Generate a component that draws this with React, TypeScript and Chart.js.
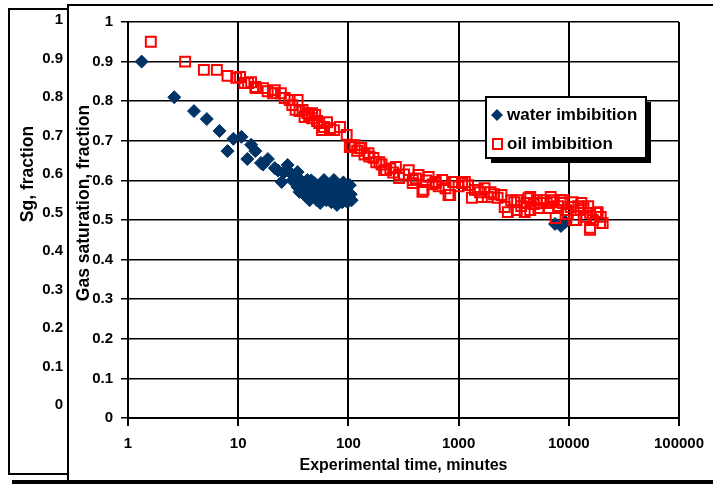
import React, { useEffect, useRef } from 'react';
import { Chart, registerables } from 'chart.js';

Chart.register(...registerables);

const FONT = "'Liberation Sans', Arial, sans-serif";

const seriesNames = ['water imbibition', 'oil imbibition'];
const xTitle = 'Experimental time, minutes';
const yTitle = 'Gas saturation, fraction';
const sgTitle = 'Sg, fraction';

const xTicks = [1, 10, 100, 1000, 10000, 100000];
const yTicks = [0, 0.1, 0.2, 0.3, 0.4, 0.5, 0.6, 0.7, 0.8, 0.9, 1];

const waterTime = [
  1.33, 2.63, 3.97, 5.19, 6.77, 8.0, 9.05, 10.7, 12.1, 13.1, 14.3, 16.1, 16.8, 18.6, 21.5,
  23, 24.8, 26, 28.1, 29.8, 31, 33, 34.6, 34.6, 36, 37, 38, 40, 41, 42.4, 44.4, 44.4, 46, 47,
  49.1, 50, 52, 54.4, 55.5, 57, 58, 60.1, 61.6, 63, 64.1, 66, 68, 70, 72, 73.9, 75.5, 78.7, 81,
  84, 86, 88, 90, 93, 96.5, 98, 100, 103, 105, 107, 7500, 8500, 9300,
];
const waterSat = [
  0.9, 0.81, 0.775, 0.755, 0.725, 0.674, 0.705, 0.71, 0.654, 0.69, 0.674, 0.644, 0.64, 0.654, 0.631,
  0.625, 0.596, 0.62, 0.639, 0.619, 0.6, 0.61, 0.621, 0.583, 0.571, 0.6, 0.59, 0.563, 0.58, 0.601, 0.583, 0.55, 0.6, 0.57,
  0.593, 0.56, 0.55, 0.576, 0.543, 0.585, 0.565, 0.601, 0.563, 0.55, 0.583, 0.575, 0.55, 0.545, 0.59, 0.601, 0.568, 0.538, 0.555,
  0.583, 0.57, 0.545, 0.595, 0.58, 0.558, 0.545, 0.57, 0.588, 0.565, 0.55, 0.49, 0.485, 0.495,
];

const oilTime = [
  1.61, 3.3, 4.88, 6.4, 8.0, 9.6, 10.4, 11.4, 12.3, 13.1, 14.3, 14.5, 16.8, 18.5, 20.7, 21.5, 24.4,
  26.4, 29.3, 31, 34.6, 33.2, 36, 38.4, 40, 42.4, 44, 46.9, 46.9, 50, 52, 54.4, 57.6, 60.1, 64, 68, 74,
  84, 96.5, 103, 107, 114, 120, 126, 131, 140, 152, 155, 169, 179, 191, 200, 211, 220, 240, 255, 270,
  288, 288, 320, 353, 384, 384, 410, 433, 470, 481, 510, 535, 580, 618, 618, 660, 710, 760, 810, 839,
  893, 930, 1000, 1075, 1140, 1218, 1320, 1407, 1490, 1560, 1626, 1720, 1840, 1950, 2100, 2260,
  2450, 2620, 2800, 3000, 3200, 3370, 3400, 3700, 3980, 4120, 4300, 4470, 4470, 4800, 5130, 5300,
  5550, 5900, 6300, 6600, 6850, 7000, 7300, 7600, 8000, 8400, 8900, 8900, 9500, 9800, 10400, 10800,
  11100, 11700, 12200, 12800, 13000, 13600, 14400, 15000, 15600, 15600, 15600, 16500, 17700, 18300,
  19200, 19500, 20300,
];
const oilSat = [
  0.95, 0.9, 0.879, 0.879, 0.864, 0.859, 0.861, 0.846, 0.846, 0.848, 0.836, 0.833, 0.833, 0.825, 0.82, 0.828, 0.82,
  0.808, 0.803, 0.79, 0.803, 0.778, 0.775, 0.778, 0.76, 0.77, 0.765, 0.77, 0.757, 0.765, 0.75, 0.745, 0.727, 0.735, 0.747, 0.732, 0.727,
  0.735, 0.715, 0.684, 0.689, 0.689, 0.675, 0.682, 0.682, 0.665, 0.669, 0.66, 0.657, 0.646, 0.646, 0.64, 0.626, 0.626, 0.63, 0.62, 0.634,
  0.614, 0.606, 0.615, 0.626, 0.601, 0.593, 0.605, 0.614, 0.571, 0.576, 0.6, 0.609, 0.59, 0.596, 0.593, 0.585, 0.601, 0.58, 0.563, 0.563,
  0.596, 0.596, 0.585, 0.593, 0.596, 0.588, 0.556, 0.576, 0.576, 0.57, 0.558, 0.58, 0.558, 0.57, 0.565, 0.556,
  0.563, 0.533, 0.52, 0.55, 0.545, 0.525, 0.55, 0.535, 0.52, 0.543, 0.555, 0.525, 0.558, 0.54, 0.55, 0.53,
  0.543, 0.55, 0.543, 0.53, 0.558, 0.545, 0.55, 0.505, 0.535, 0.55, 0.55, 0.543, 0.525, 0.515, 0.533, 0.545,
  0.5, 0.5, 0.535, 0.525, 0.543, 0.53, 0.508, 0.535, 0.518, 0.48, 0.475, 0.5, 0.518, 0.52,
  0.492, 0.508, 0.492,
];

const WATER = '#003366';
const OIL = '#FF0000';

const toPoints = (xs: number[], ys: number[]) => xs.map((x, i) => ({ x, y: ys[i] }));
const tickFont = { family: FONT, size: 15, weight: 'bold' as const };

const innerPlugin = {
  id: 'innerFrame',
  beforeDraw(chart: any) {
    const ctx = chart.ctx;
    ctx.save();
    ctx.fillStyle = '#ffffff';
    ctx.fillRect(68, 0, 713 - 68, 486);
    ctx.strokeStyle = '#000';
    ctx.lineWidth = 2;
    ctx.beginPath();
    ctx.moveTo(68, 482);
    ctx.lineTo(68, 5);
    ctx.lineTo(713, 5);
    ctx.stroke();
    ctx.fillStyle = '#000';
    ctx.fillRect(12, 480, 713 - 12, 4);
    ctx.restore();
  },
  afterDraw(chart: any) {
    const ctx = chart.ctx;
    ctx.save();
    ctx.translate(84, 203);
    ctx.rotate(-Math.PI / 2);
    ctx.fillStyle = '#000';
    ctx.font = `bold 17.5px ${FONT}`;
    ctx.textAlign = 'center';
    ctx.textBaseline = 'middle';
    ctx.fillText(yTitle, 0, 0);
    ctx.restore();

    // legend
    ctx.save();
    const bx = 486, by = 97, bw = 160, bh = 61;
    ctx.fillStyle = '#000';
    ctx.fillRect(bx + 5, by + 5, bw, bh);
    ctx.fillStyle = '#fff';
    ctx.fillRect(bx, by, bw, bh);
    ctx.strokeStyle = '#000';
    ctx.lineWidth = 2;
    ctx.strokeRect(bx, by, bw, bh);
    const ds = chart.data.datasets;
    ctx.fillStyle = WATER;
    ctx.beginPath();
    ctx.moveTo(497, 109);
    ctx.lineTo(503, 115);
    ctx.lineTo(497, 121);
    ctx.lineTo(491, 115);
    ctx.closePath();
    ctx.fill();
    ctx.strokeStyle = OIL;
    ctx.lineWidth = 2;
    ctx.strokeRect(493, 139, 9, 10);
    ctx.fillStyle = '#000';
    ctx.font = `bold 17px ${FONT}`;
    ctx.textAlign = 'left';
    ctx.textBaseline = 'middle';
    ctx.fillText(ds[1].label, 507, 115);
    ctx.fillText(ds[0].label, 507, 144);
    ctx.restore();
  },
};

const outerPlugin = {
  id: 'outerFrame',
  beforeDraw(chart: any) {
    const ctx = chart.ctx;
    ctx.save();
    ctx.fillStyle = '#fff';
    ctx.fillRect(0, 0, 713, 486);
    ctx.strokeStyle = '#000';
    ctx.lineWidth = 2;
    ctx.strokeRect(9, 9, 59, 465);
    ctx.restore();
  },
  afterDraw(chart: any) {
    const ctx = chart.ctx;
    ctx.save();
    ctx.translate(28, 174);
    ctx.rotate(-Math.PI / 2);
    ctx.fillStyle = '#000';
    ctx.font = `bold 17.5px ${FONT}`;
    ctx.textAlign = 'center';
    ctx.textBaseline = 'middle';
    ctx.fillText(sgTitle, 0, 0);
    ctx.restore();
  },
};

const fmtY = (v: any) => String(Math.round(Number(v) * 10) / 10);

export default function App() {
  const outerRef = useRef<HTMLCanvasElement>(null);
  const innerRef = useRef<HTMLCanvasElement>(null);

  useEffect(() => {
    const outer = new Chart(outerRef.current as HTMLCanvasElement, {
      type: 'scatter',
      data: { datasets: [] },
      options: {
        responsive: false,
        animation: false,
        events: [],
        layout: { padding: { top: 20, bottom: 81, left: 0, right: 0 } },
        plugins: { legend: { display: false }, tooltip: { enabled: false } },
        scales: {
          x: { display: false, min: 0, max: 1 },
          y: {
            min: 0,
            max: 1,
            afterBuildTicks: (s: any) => {
              s.ticks = yTicks.map((v) => ({ value: v }));
            },
            afterFit: (s: any) => {
              s.width = 64;
            },
            grid: { display: false, drawTicks: false },
            border: { display: false },
            ticks: { padding: 1, font: tickFont, color: '#000', callback: fmtY },
          },
        },
      } as any,
      plugins: [outerPlugin],
    });

    const inner = new Chart(innerRef.current as HTMLCanvasElement, {
      type: 'scatter',
      data: {
        datasets: [
          {
            label: seriesNames[1],
            data: toPoints(oilTime, oilSat),
            pointStyle: 'rect',
            pointRadius: 7,
            backgroundColor: 'rgba(0,0,0,0)',
            borderColor: OIL,
            borderWidth: 2,
            order: 1,
          },
          {
            label: seriesNames[0],
            data: toPoints(waterTime, waterSat),
            pointStyle: 'rectRot',
            pointRadius: 6.5,
            backgroundColor: WATER,
            borderColor: WATER,
            borderWidth: 1,
            order: 2,
          },
        ],
      },
      options: {
        responsive: false,
        animation: false,
        events: [],
        layout: { padding: { top: 22, right: 26, left: 0, bottom: 0 } },
        plugins: { legend: { display: false }, tooltip: { enabled: false } },
        scales: {
          x: {
            type: 'logarithmic',
            min: 1,
            max: 100000,
            afterBuildTicks: (s: any) => {
              s.ticks = xTicks.map((v) => ({ value: v }));
            },
            afterFit: (s: any) => {
              s.height = 68;
            },
            grid: { color: '#000', lineWidth: 2, tickLength: 8 },
            border: { color: '#000', width: 2 },
            ticks: {
              autoSkip: false,
              maxRotation: 0,
              padding: 9,
              font: tickFont,
              color: '#000',
              callback: (v: any) => String(v),
            },
            title: {
              display: true,
              text: xTitle,
              color: '#000',
              font: { family: FONT, size: 16, weight: 'bold' },
              padding: { top: 0, bottom: 11 },
            },
          },
          y: {
            min: 0,
            max: 1,
            afterBuildTicks: (s: any) => {
              s.ticks = yTicks.map((v) => ({ value: v }));
            },
            afterFit: (s: any) => {
              s.width = 128;
            },
            grid: { color: '#000', lineWidth: 1.5, tickLength: 7 },
            border: { color: '#000', width: 2 },
            ticks: { padding: 8, font: tickFont, color: '#000', callback: fmtY },
          },
        },
      } as any,
      plugins: [innerPlugin],
    });

    return () => {
      inner.destroy();
      outer.destroy();
    };
  }, []);

  return (
    <div style={{ position: 'absolute', left: 0, top: 0, width: 713, height: 486, background: '#fff' }}>
      <canvas ref={outerRef} width={713} height={486} style={{ position: 'absolute', left: 0, top: 0 }} />
      <canvas ref={innerRef} width={713} height={486} style={{ position: 'absolute', left: 0, top: 0 }} />
    </div>
  );
}
